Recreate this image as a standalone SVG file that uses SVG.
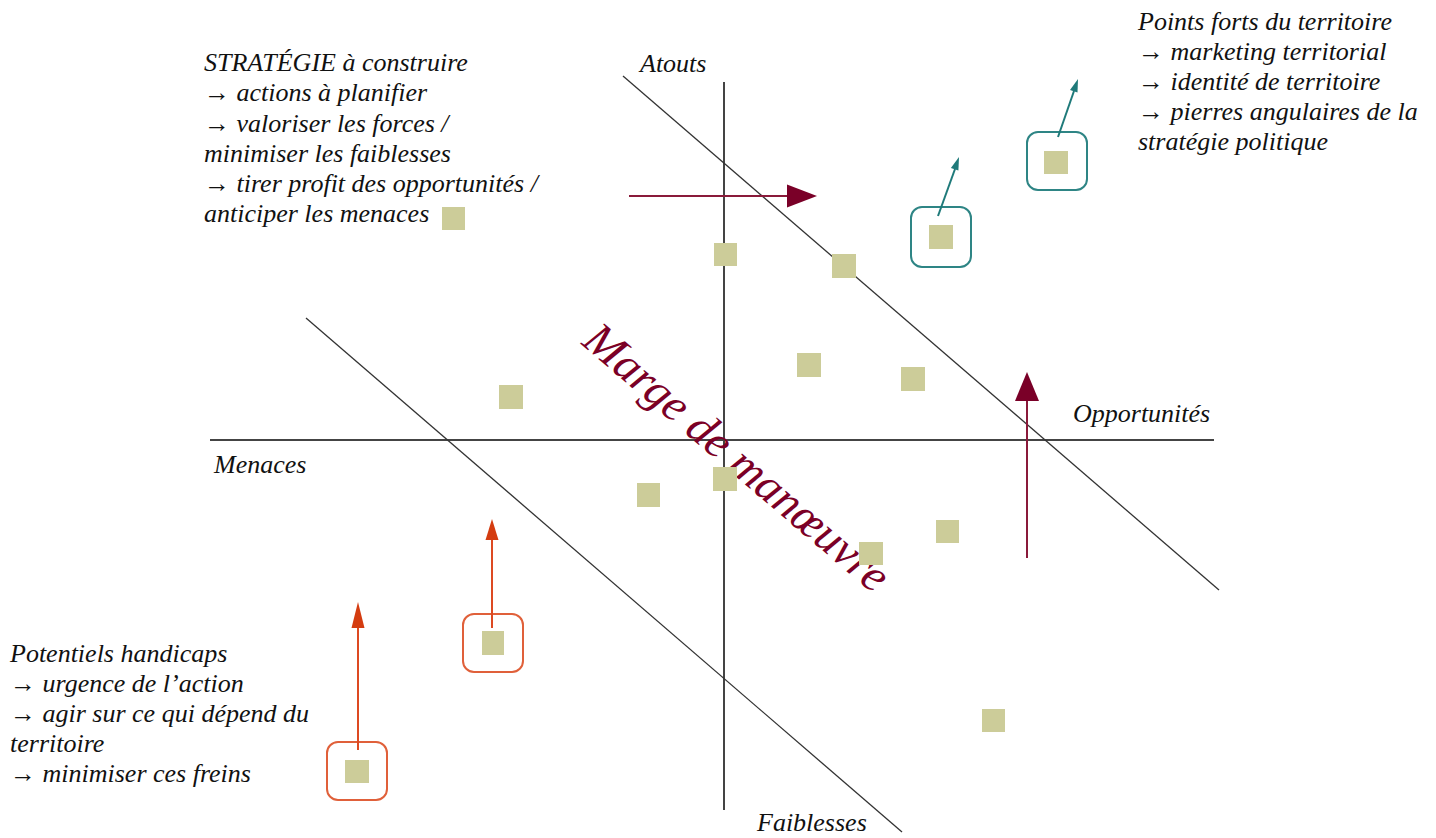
<svg xmlns="http://www.w3.org/2000/svg" width="1436" height="838" viewBox="0 0 1436 838">
<style>
.t{font-family:"Liberation Serif","Times New Roman",serif;font-style:italic;font-size:26px;fill:#111}
.sq{fill:#cccc99}
.axis{stroke:#444;stroke-width:2;fill:none}
.diag{stroke:#333;stroke-width:1.3;fill:none}
.bt{fill:none;stroke:#2e8585;stroke-width:2}
.bo{fill:none;stroke:#e0603a;stroke-width:2}
.at{stroke:#1f7a7a;stroke-width:2;fill:none}
.ao{stroke:#dd4a22;stroke-width:2;fill:none}
.ar{stroke:#8a1a3a;stroke-width:2;fill:none}
</style>
<rect width="1436" height="838" fill="#fff"/>
<g id="axes">
<line class="axis" x1="724" y1="82" x2="724" y2="810"/>
<line class="axis" x1="210" y1="440" x2="1214" y2="440"/>
<line class="diag" x1="623" y1="76" x2="1219" y2="590"/>
<line class="diag" x1="306" y1="318" x2="902" y2="832"/>
</g>
<g id="axis-labels">
<text class="t" x="640" y="72">Atouts</text>
<text class="t" x="1073" y="422">Opportunités</text>
<text class="t" x="214" y="473">Menaces</text>
<text class="t" x="757" y="831">Faiblesses</text>
</g>
<g id="marge">
<text transform="translate(727,469) rotate(40.5)" text-anchor="middle" style="font-family:'Liberation Serif','Times New Roman',serif;font-style:italic;font-size:47px;fill:#7b0026">Marge de manœuvre</text>
</g>
<g id="strategie">
<text class="t" x="204" y="71">STRATÉGIE à construire</text>
<text class="t" x="204" y="101">→ actions à planifier</text>
<text class="t" x="204" y="132">→ valoriser les forces /</text>
<text class="t" x="204" y="162">minimiser les faiblesses</text>
<text class="t" x="204" y="192">→ tirer profit des opportunités /</text>
<text class="t" x="204" y="222">anticiper les menaces</text>
</g>
<g id="points-forts">
<text class="t" x="1138" y="30">Points forts du territoire</text>
<text class="t" x="1138" y="60">→ marketing territorial</text>
<text class="t" x="1138" y="90">→ identité de territoire</text>
<text class="t" x="1138" y="120">→ pierres angulaires de la</text>
<text class="t" x="1138" y="150">stratégie politique</text>
</g>
<g id="handicaps">
<text class="t" x="10" y="662">Potentiels handicaps</text>
<text class="t" x="10" y="692">→ urgence de l’action</text>
<text class="t" x="10" y="722">→ agir sur ce qui dépend du</text>
<text class="t" x="10" y="752">territoire</text>
<text class="t" x="10" y="782">→ minimiser ces freins</text>
</g>
<g id="items">
<rect class="sq" x="442" y="207" width="23" height="23"/>
<rect class="sq" x="714" y="243" width="23" height="23"/>
<rect class="sq" x="832" y="254" width="24" height="24"/>
<rect class="sq" x="797" y="353" width="24" height="24"/>
<rect class="sq" x="901" y="367" width="24" height="24"/>
<rect class="sq" x="499" y="385" width="24" height="24"/>
<rect class="sq" x="637" y="483" width="23" height="24"/>
<rect class="sq" x="713" y="467" width="24" height="24"/>
<rect class="sq" x="859" y="542" width="24" height="23"/>
<rect class="sq" x="936" y="520" width="23" height="23"/>
<rect class="sq" x="982" y="709" width="23" height="23"/>
</g>
<g id="fort-1">
<rect class="bt" x="911" y="207" width="60" height="60" rx="11"/>
<rect class="sq" x="929" y="225" width="24" height="24"/>
</g>
<g id="fort-2">
<rect class="bt" x="1027" y="132" width="60" height="58" rx="11"/>
<rect class="sq" x="1044" y="151" width="24" height="23"/>
</g>
<g id="handicap-1">
<rect class="bo" x="463" y="614" width="60" height="58" rx="11"/>
<rect class="sq" x="482" y="631" width="22" height="24"/>
</g>
<g id="handicap-2">
<rect class="bo" x="327" y="742" width="60" height="58" rx="11"/>
<rect class="sq" x="345" y="760" width="24" height="23"/>
</g>
<g id="connectors">
<line class="ar" x1="629" y1="196" x2="790" y2="196"/>
<polygon points="787,184.5 817,196 787,207.5" fill="#7a0028"/>
<line class="ar" x1="1027" y1="558" x2="1027" y2="398"/>
<polygon points="1015,401 1027,372 1039,401" fill="#7a0028"/>
<line class="at" x1="938" y1="216" x2="955" y2="169"/>
<polygon points="959,157 958.4,170.6 950.9,167.9" fill="#1f7a7a"/>
<line class="at" x1="1058" y1="137" x2="1074" y2="91"/>
<polygon points="1078,79 1077.5,92.6 1070,90" fill="#1f7a7a"/>
<line class="ao" x1="492" y1="628" x2="492" y2="537"/>
<polygon points="485.5,540 492,519 498.5,540" fill="#d43c10"/>
<line class="ao" x1="358" y1="750" x2="358" y2="625"/>
<polygon points="351.5,628 358,602 364.5,628" fill="#d43c10"/>
</g>
</svg>
